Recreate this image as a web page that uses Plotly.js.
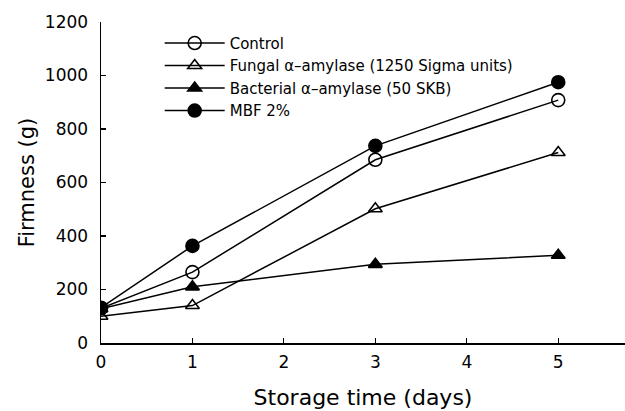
<!DOCTYPE html>
<html>
<head>
<meta charset="utf-8">
<script src="https://cdn.plot.ly/plotly-3.0.1.min.js"></script>
<style>html,body{margin:0;padding:0;background:#fff;}#chart{width:625px;height:411px;}</style>
</head>
<body>
<div id="chart"></div>
<script>
const days = [0, 1, 3, 5];
const control = [130, 265, 685, 908];
const fungal = [100, 140, 502, 712];
const bacterial = [128, 210, 294, 328];
const mbf = [132, 363, 737, 975];
const seriesNames = ["Control", "Fungal α\u2013amylase (1250 Sigma units)", "Bacterial α\u2013amylase (50 SKB)", "MBF 2%"];
const yTicks = [0, 200, 400, 600, 800, 1000, 1200];
const xTicks = [0, 1, 2, 3, 4, 5];

const lineStyle = {color: "#000", width: 1.5};
function tr(y, name, symbol, size) {
  return {
    x: days, y: y, name: name, type: "scatter", mode: "lines+markers",
    line: lineStyle,
    marker: {symbol: symbol, size: size, color: "#000", line: {color: "#000", width: 1.6}}
  };
}
const data = [
  tr(control, seriesNames[0], "circle-open", 13),
  tr(fungal, seriesNames[1], "triangle-up-open", 12),
  tr(bacterial, seriesNames[2], "triangle-up", 12),
  tr(mbf, seriesNames[3], "circle", 13)
];
const font = "DejaVu Sans, sans-serif";
const layout = {
  width: 625, height: 411,
  margin: {l: 101, r: 0, t: 22, b: 68},
  paper_bgcolor: "#fff", plot_bgcolor: "#fff",
  showlegend: true,
  legend: {x: 0.112, y: 0.985, xanchor: "left", yanchor: "top", bgcolor: "rgba(0,0,0,0)",
           font: {family: font, size: 15, color: "#000"}, itemwidth: 60, tracegroupgap: 0},
  xaxis: {
    range: [0, 5.73], tickvals: xTicks, ticktext: xTicks.map(String),
    showgrid: false, zeroline: false, showline: true, linecolor: "#000", linewidth: 1.5,
    ticks: "inside", ticklen: 5, tickwidth: 1.2, tickcolor: "#000",
    tickfont: {family: font, size: 17, color: "#000"}, ticklabelstandoff: 3,
    title: {text: "Storage time (days)", font: {family: font, size: 22, color: "#000"}, standoff: 18}
  },
  yaxis: {
    range: [0, 1200], tickvals: yTicks, ticktext: yTicks.map(String),
    showgrid: false, zeroline: false, showline: true, linecolor: "#000", linewidth: 1.5,
    ticks: "inside", ticklen: 5, tickwidth: 1.2, tickcolor: "#000",
    tickfont: {family: font, size: 17, color: "#000"}, ticklabelstandoff: 8,
    title: {text: "Firmness (g)", font: {family: font, size: 21, color: "#000"}, standoff: 4}
  }
};
Plotly.newPlot("chart", data, layout, {displayModeBar: false, staticPlot: true});
</script>
</body>
</html>
